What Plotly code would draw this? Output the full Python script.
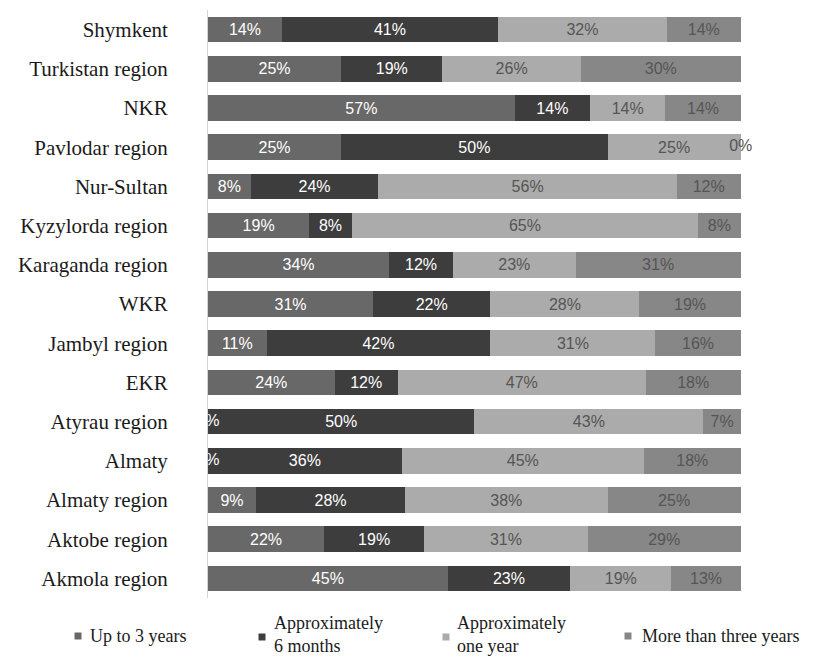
import plotly.graph_objects as go
import numpy as np

# Regions, listed top to bottom
regions = [
    "Shymkent", "Turkistan region", "NKR", "Pavlodar region", "Nur-Sultan",
    "Kyzylorda region", "Karaganda region", "WKR", "Jambyl region", "EKR",
    "Atyrau region", "Almaty", "Almaty region", "Aktobe region", "Akmola region",
]

# Share of respondents (%) per answer
up_to_3_years = [14, 25, 57, 25, 8, 19, 34, 31, 11, 24, 0, 0, 9, 22, 45]
approx_6_months = [41, 19, 14, 50, 24, 8, 12, 22, 42, 12, 50, 36, 28, 19, 23]
approx_one_year = [32, 26, 14, 25, 56, 65, 23, 28, 31, 47, 43, 45, 38, 31, 19]
more_than_three = [14, 30, 14, 0, 12, 8, 31, 19, 16, 18, 7, 18, 25, 29, 13]

series_names = ["Up to 3 years", "Approximately<br>6 months",
                "Approximately<br>one year", "More than three years"]
series_values = [up_to_3_years, approx_6_months, approx_one_year, more_than_three]
bar_colors = ["#686868", "#3d3d3d", "#ababab", "#878787"]
text_colors = ["#ffffff", "#ffffff", "#555555", "#555555"]

LEFT, RIGHT, TOP, BOTTOM = 208, 55, 10, 60
W, H = 817, 658
plot_w = W - LEFT - RIGHT
plot_h = H - TOP - BOTTOM

LABEL_FONT = "Liberation Sans, Arial"
SERIF_FONT = "Liberation Serif, Times New Roman"

fig = go.Figure()

totals = np.sum(np.array(series_values, dtype=float), axis=0)
cum = np.zeros(len(regions))
for name, vals, col, tcol in zip(series_names, series_values, bar_colors, text_colors):
    vals_arr = np.array(vals, dtype=float)
    fig.add_trace(go.Bar(
        y=regions, x=vals, name=name, orientation="h",
        marker=dict(color=col, line=dict(width=0)),
        text=[f"{v}%" if v > 0 else "" for v in vals],
        textposition="inside", insidetextanchor="middle",
        textfont=dict(family=LABEL_FONT, size=16, color=tcol),
        constraintext="none", showlegend=False, hoverinfo="skip",
    ))
    # zero-width segments still carry a "0%" label at their position
    start = cum / totals * 100
    zero_idx = [i for i, v in enumerate(vals) if v == 0]
    if zero_idx:
        fig.add_trace(go.Scatter(
            x=[start[i] for i in zero_idx], y=[regions[i] for i in zero_idx],
            mode="text", text=["0%"] * len(zero_idx),
            textfont=dict(family=LABEL_FONT, size=16, color=tcol),
            cliponaxis=True, showlegend=False, hoverinfo="skip",
        ))
    cum = cum + vals_arr

# Legend drawn as squares with text beneath the chart
def px_x(px):
    return (px - LEFT) / plot_w

def px_y(py):
    return (H - BOTTOM - py) / plot_h

legend_items = [
    (78, 636, 88, 636, "Up to 3 years"),
    (262, 637, 272, 634, "Approximately<br>6 months"),
    (446, 637, 455, 634, "Approximately<br>one year"),
    (628, 636, 640, 636, "More than three years"),
]
shapes = []
annotations = []
for (mx, my, tx, ty, label), col in zip(legend_items, bar_colors):
    shapes.append(dict(
        type="rect", xref="paper", yref="paper",
        x0=px_x(mx - 3.5), x1=px_x(mx + 3.5), y0=px_y(my + 3.5), y1=px_y(my - 3.5),
        fillcolor=col, line=dict(width=0),
    ))
    annotations.append(dict(
        xref="paper", yref="paper", x=px_x(tx), y=px_y(ty),
        xanchor="left", yanchor="middle", align="left", showarrow=False,
        text=label, font=dict(family=SERIF_FONT, size=18, color="#1a1a1a"),
    ))

fig.update_layout(
    barmode="stack", barnorm="percent", bargap=0.35,
    width=W, height=H,
    margin=dict(l=LEFT, r=RIGHT, t=TOP, b=BOTTOM),
    paper_bgcolor="white", plot_bgcolor="white",
    shapes=shapes, annotations=annotations,
    xaxis=dict(range=[0, 104], showgrid=False, zeroline=False,
               showticklabels=False, showline=False),
    yaxis=dict(categoryorder="array", categoryarray=regions[::-1],
               showgrid=False, zeroline=False, showline=True,
               linecolor="#d4d4d4", linewidth=1, ticks="",
               ticklabelstandoff=35,
               tickfont=dict(family=SERIF_FONT, size=21, color="#1a1a1a")),
)

fig.write_html("out.html")
